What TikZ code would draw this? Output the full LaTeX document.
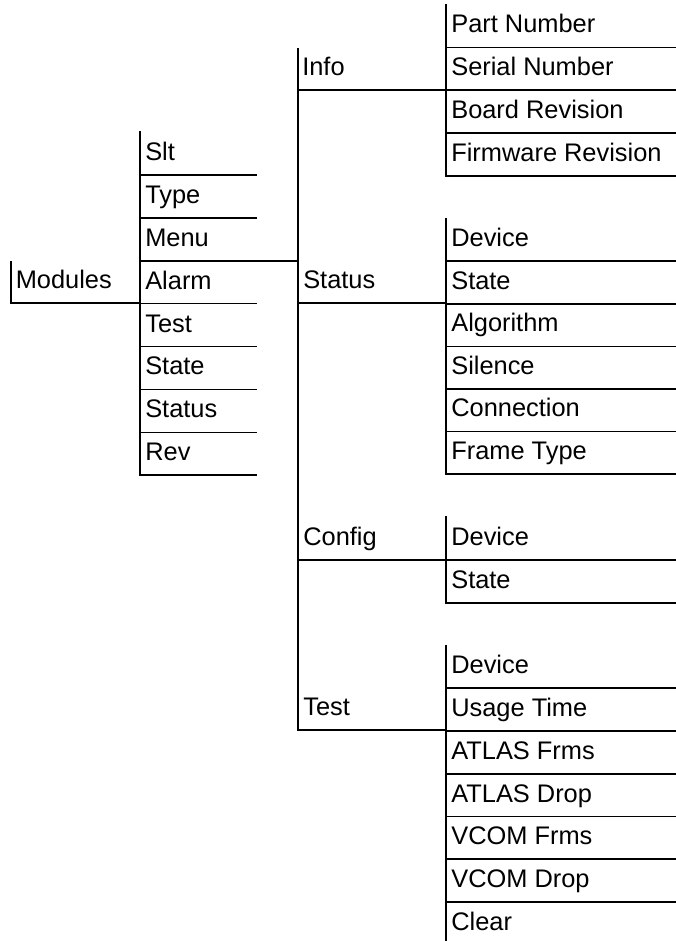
\documentclass[tikz,border=0pt]{standalone}
\usepackage{fontspec}
\setmainfont{Liberation Sans}
\begin{document}
\begin{tikzpicture}[x=1pt,y=-1pt,line width=1.6pt,
  lbl/.style={anchor=base west,inner sep=0pt,font=\fontsize{25.4}{30}\selectfont},
  rule/.style={line width=1.6pt,line cap=rect}]
\useasboundingbox (0,0) rectangle (675,941);
% ---------- column 1 ----------
\node[lbl] (modules) at (15,288.5) {Modules};
\draw[rule] (11,262) -- (11,303) -- (140,303);
% ---------- column 2 ----------
\foreach \t [count=\i] in {Slt,Type,Menu,Alarm,Test,State,Status,Rev} {
  \pgfmathsetmacro\yb{132+42.9*\i}
  \node[lbl] (m\i) at (144.5,\yb-14.5) {\t};
  \draw[rule] (140,\yb) -- (256,\yb);
}
\draw[rule] (140,132) -- (140,475);
\draw[rule] (256,260.7) -- (298,260.7);
% ---------- column 3 ----------
\draw[rule] (298,49) -- (298,730);
\node[lbl] (info) at (301.5,75.5) {Info};
\node[lbl] (status) at (302.5,288.5) {Status};
\node[lbl] (config) at (302.5,545.5) {Config};
\node[lbl] (test) at (302.5,715.5) {Test};
\foreach \y in {90,303,560,730} \draw[rule] (298,\y) -- (446,\y);
% ---------- column 4: Info ----------
\draw[rule] (446,5) -- (446,176);
\foreach \t [count=\i] in {Part Number,Serial Number,Board Revision,Firmware Revision} {
  \pgfmathsetmacro\yb{4.7+42.8*\i}
  \node[lbl] (i\i) at (450.5,\yb-14.5) {\t};
  \draw[rule] (446,\yb) -- (675,\yb);
}
% ---------- column 4: Status ----------
\draw[rule] (446,219) -- (446,474);
\foreach \t [count=\i] in {Device,State,Algorithm,Silence,Connection,Frame Type} {
  \pgfmathsetmacro\yb{218.7+42.55*\i}
  \node[lbl] (s\i) at (450.5,\yb-14.5) {\t};
  \draw[rule] (446,\yb) -- (675,\yb);
}
% ---------- column 4: Config ----------
\draw[rule] (446,517) -- (446,603);
\foreach \t [count=\i] in {Device,State} {
  \pgfmathsetmacro\yb{517+43*\i}
  \node[lbl] (c\i) at (450.5,\yb-14.5) {\t};
  \draw[rule] (446,\yb) -- (675,\yb);
}
% ---------- column 4: Test ----------
\draw[rule] (446,646) -- (446,941);
\foreach \t [count=\i] in {Device,Usage Time,ATLAS Frms,ATLAS Drop,VCOM Frms,VCOM Drop,Clear} {
  \pgfmathsetmacro\yb{645.5+42.75*\i}
  \node[lbl] (t\i) at (450.5,\yb-14.5) {\t};
  \ifnum\i<7 \draw[rule] (446,\yb) -- (675,\yb); \fi
}
\end{tikzpicture}
\end{document}
